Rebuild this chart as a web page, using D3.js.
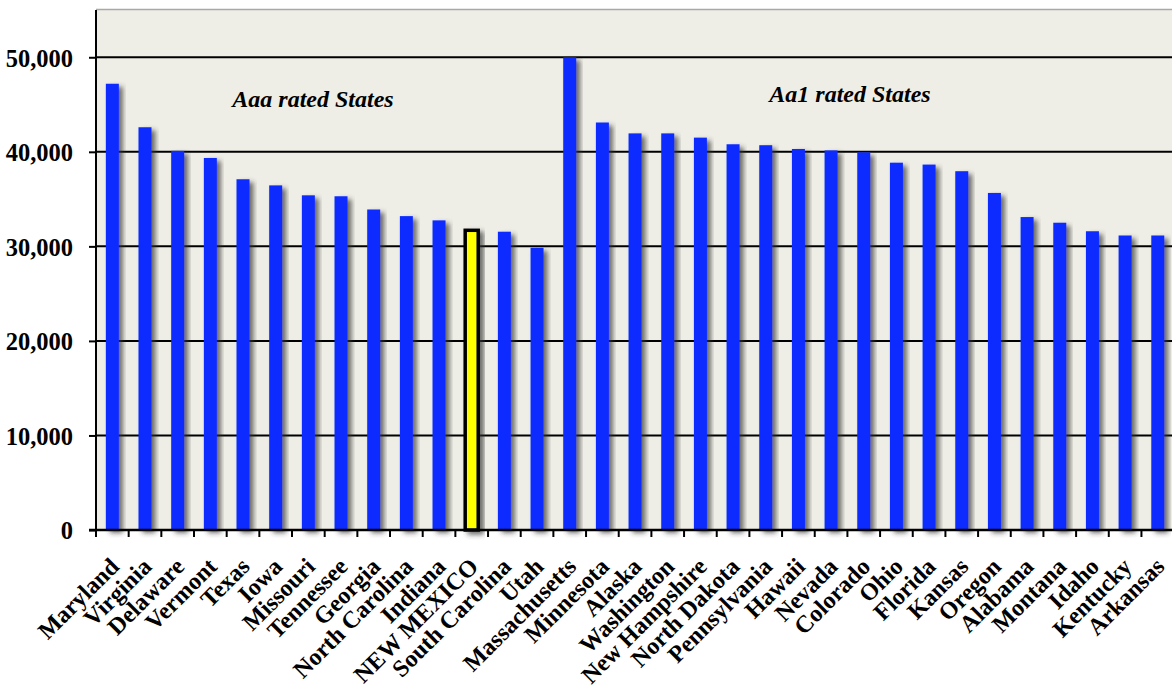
<!DOCTYPE html>
<html>
<head>
<meta charset="utf-8">
<script src="https://cdn.jsdelivr.net/npm/d3@7"></script>
<style>
  body { margin: 0; background: #fff; }
  svg { display: block; }
  text { font-family: "Liberation Serif", "Times New Roman", serif; font-weight: bold; }
</style>
</head>
<body>
<svg id="chart"></svg>
<script>
// Per capita income by state, grouped by GO bond rating
var states = ['Maryland', 'Virginia', 'Delaware', 'Vermont', 'Texas', 'Iowa', 'Missouri',
  'Tennessee', 'Georgia', 'North Carolina', 'Indiana', 'NEW MEXICO', 'South Carolina', 'Utah',
  'Massachusetts', 'Minnesota', 'Alaska', 'Washington', 'New Hampshire', 'North Dakota',
  'Pennsylvania', 'Hawaii', 'Nevada', 'Colorado', 'Ohio', 'Florida', 'Kansas', 'Oregon',
  'Alabama', 'Montana', 'Idaho', 'Kentucky', 'Arkansas'];
var incomes = [47200, 42600, 40100, 39350, 37100, 36450, 35400,
  35300, 33900, 33200, 32750, 31700, 31550, 29850,
  50000, 43100, 41950, 41950, 41500, 40800,
  40700, 40300, 40150, 39950, 38850, 38650, 37950, 35650,
  33100, 32500, 31600, 31150, 31150];
var highlight = 'NEW MEXICO';
var yTicks = [0, 10000, 20000, 30000, 40000, 50000];
var groupLabels = ['Aaa rated States', 'Aa1 rated States'];

var chartWidth = 1172;
var chartHeight = 686;
var plotLeft = 96;
var plotTop = 10;
var plotBottom = 530;
var bandStep = 32.67;
var barWidth = 13;

var svg = d3.select('#chart')
  .attr('width', chartWidth)
  .attr('height', chartHeight);

var x = d3.scaleBand()
  .domain(states)
  .range([plotLeft, plotLeft + bandStep * states.length]);

var y = d3.scaleLinear()
  .domain([0, 55000])
  .range([plotBottom, plotTop]);

// drop shadow like the office chart
var defs = svg.append('defs');
var shadow = defs.append('filter')
  .attr('id', 'shadow')
  .attr('x', '-50%').attr('y', '-5%')
  .attr('width', '200%').attr('height', '110%');
shadow.append('feDropShadow')
  .attr('dx', 4).attr('dy', 3)
  .attr('stdDeviation', 2.4)
  .attr('flood-color', '#333')
  .attr('flood-opacity', 0.7);

// plot background
svg.append('rect')
  .attr('x', plotLeft)
  .attr('y', plotTop)
  .attr('width', chartWidth - plotLeft)
  .attr('height', plotBottom - plotTop)
  .attr('fill', '#efeee6');
svg.append('line')
  .attr('x1', plotLeft).attr('x2', chartWidth)
  .attr('y1', plotTop - 0.5).attr('y2', plotTop - 0.5)
  .attr('stroke', '#a8a8a8')
  .attr('stroke-width', 1.5);

// gridlines
svg.append('g')
  .selectAll('line')
  .data(yTicks.filter(function(t) { return t > 0; }))
  .enter().append('line')
  .attr('x1', plotLeft).attr('x2', chartWidth)
  .attr('y1', function(t) { return y(t); })
  .attr('y2', function(t) { return y(t); })
  .attr('stroke', '#000')
  .attr('stroke-width', 2);

// bars
var data = states.map(function(s, i) { return { state: s, value: incomes[i] }; });
svg.append('g')
  .selectAll('rect')
  .data(data)
  .enter().append('rect')
  .attr('x', function(d) { return x(d.state) + x.bandwidth() / 2 - barWidth / 2; })
  .attr('y', function(d) { return y(d.value); })
  .attr('width', barWidth)
  .attr('height', function(d) { return y(0) - y(d.value); })
  .attr('fill', function(d) { return d.state === highlight ? '#ffff00' : '#0d2cff'; })
  .attr('stroke', function(d) { return d.state === highlight ? '#000' : 'none'; })
  .attr('stroke-width', 3.5)
  .attr('filter', 'url(#shadow)');

// y axis
var yAxis = d3.axisLeft(y)
  .tickValues(yTicks)
  .tickSize(7)
  .tickPadding(16)
  .tickFormat(d3.format(','));
var gy = svg.append('g')
  .attr('transform', 'translate(' + plotLeft + ',0)')
  .call(yAxis);
gy.select('.domain')
  .attr('d', 'M0,' + plotTop + 'V' + plotBottom)
  .attr('stroke', '#000')
  .attr('stroke-width', 2);
gy.selectAll('.tick line').attr('stroke', '#000').attr('stroke-width', 2);
gy.selectAll('.tick text')
  .attr('font-size', 24.5)
  .attr('font-family', '"Liberation Serif", serif')
  .attr('font-weight', 'bold')
  .attr('fill', '#000')
  .attr('dy', '0.36em');

// x axis: ticks at band edges
var edges = states.map(function(s) { return x(s); }).concat([x.range()[1]]);
var gx = svg.append('g');
gx.append('line')
  .attr('x1', plotLeft - 7).attr('x2', chartWidth)
  .attr('y1', plotBottom).attr('y2', plotBottom)
  .attr('stroke', '#000')
  .attr('stroke-width', 2.5);
gx.selectAll('line.tick')
  .data(edges)
  .enter().append('line')
  .attr('class', 'tick')
  .attr('x1', function(d) { return d; })
  .attr('x2', function(d) { return d; })
  .attr('y1', plotBottom).attr('y2', plotBottom + 7)
  .attr('stroke', '#000')
  .attr('stroke-width', 2);

gx.selectAll('text')
  .data(states)
  .enter().append('text')
  .attr('transform', function(s) {
    return 'translate(' + (x(s) + x.bandwidth() / 2 + 8) + ',' + (plotBottom + 38) + ') rotate(-45)';
  })
  .attr('text-anchor', 'end')
  .attr('font-size', 24)
  .attr('fill', '#000')
  .text(function(s) { return s; });

// group labels
svg.append('g')
  .selectAll('text')
  .data(groupLabels)
  .enter().append('text')
  .attr('x', function(d, i) { return i === 0 ? 313 : 850; })
  .attr('y', function(d, i) { return i === 0 ? 107 : 102; })
  .attr('text-anchor', 'middle')
  .attr('font-size', 24)
  .attr('font-style', 'italic')
  .attr('fill', '#000')
  .text(function(d) { return d; });
</script>
</body>
</html>
